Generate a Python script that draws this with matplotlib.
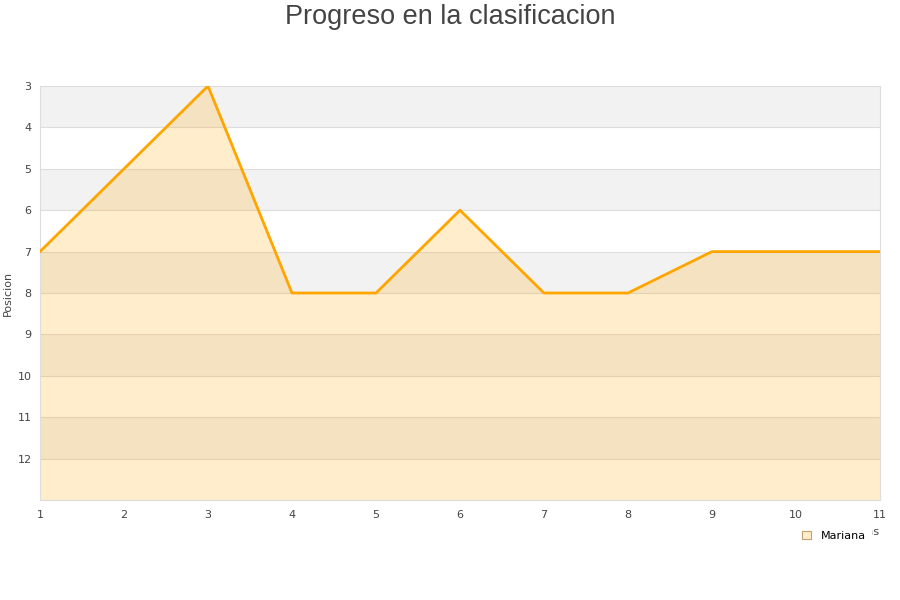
import matplotlib
matplotlib.use("Agg")
import matplotlib.pyplot as plt
from matplotlib.patches import Patch

jornadas = [1, 2, 3, 4, 5, 6, 7, 8, 9, 10, 11]
posicion = [7, 5, 3, 8, 8, 6, 8, 8, 7, 7, 7]
yticks = [3, 4, 5, 6, 7, 8, 9, 10, 11, 12]
serie = "Mariana"

fig = plt.figure(figsize=(9, 6), dpi=100)
ax = fig.add_axes([40/900, 1-500/600, 840/900, 414/600])

ax.set_xlim(1, 11)
ax.set_ylim(13, 3)

# alternating bands
for y0 in range(3, 13):
    if (y0 - 3) % 2 == 0:
        ax.axhspan(y0, y0 + 1, color="#f2f2f2", zorder=0, lw=0)
for y0 in range(4, 13):
    ax.axhline(y0, color="#dddddd", lw=0.8, zorder=1)

ax.fill_between(jornadas, posicion, 13, color="#ffa500", alpha=0.2, lw=0, zorder=2)
ax.plot(jornadas, posicion, color="#ffa500", lw=2, zorder=3)

ax.set_xticks(jornadas)
ax.set_yticks(yticks)
ax.tick_params(length=0, labelsize=8, colors="#444444")
ax.tick_params(axis="x", pad=7)
ax.tick_params(axis="y", pad=6)
for s in ax.spines.values():
    s.set_color("#dddddd")
    s.set_linewidth(0.8)

ax.set_ylabel("Posicion", fontsize=8, color="#444444", labelpad=3)
ax.set_xlabel("Jornadas", fontsize=8, color="#444444", loc="right", labelpad=5)

fig.suptitle("Progreso en la clasificacion", fontsize=19.5, color="#444444",
             family="Liberation Sans", y=0.993)

handle = Patch(facecolor="#ffedcc", edgecolor="#c8a070", lw=0.8)
leg = fig.legend([handle], [serie], loc="center left", bbox_to_anchor=(797/900, 1-536/600),
                 frameon=True, fontsize=8, handlelength=0.8, handleheight=0.8,
                 handletextpad=0.9, borderpad=0.45, borderaxespad=0)
leg.get_frame().set_edgecolor("white")
leg.get_frame().set_facecolor("white")
leg.get_frame().set_alpha(1)
leg.get_frame().set_boxstyle("square", pad=0)

fig.savefig("out.png", dpi=100)
